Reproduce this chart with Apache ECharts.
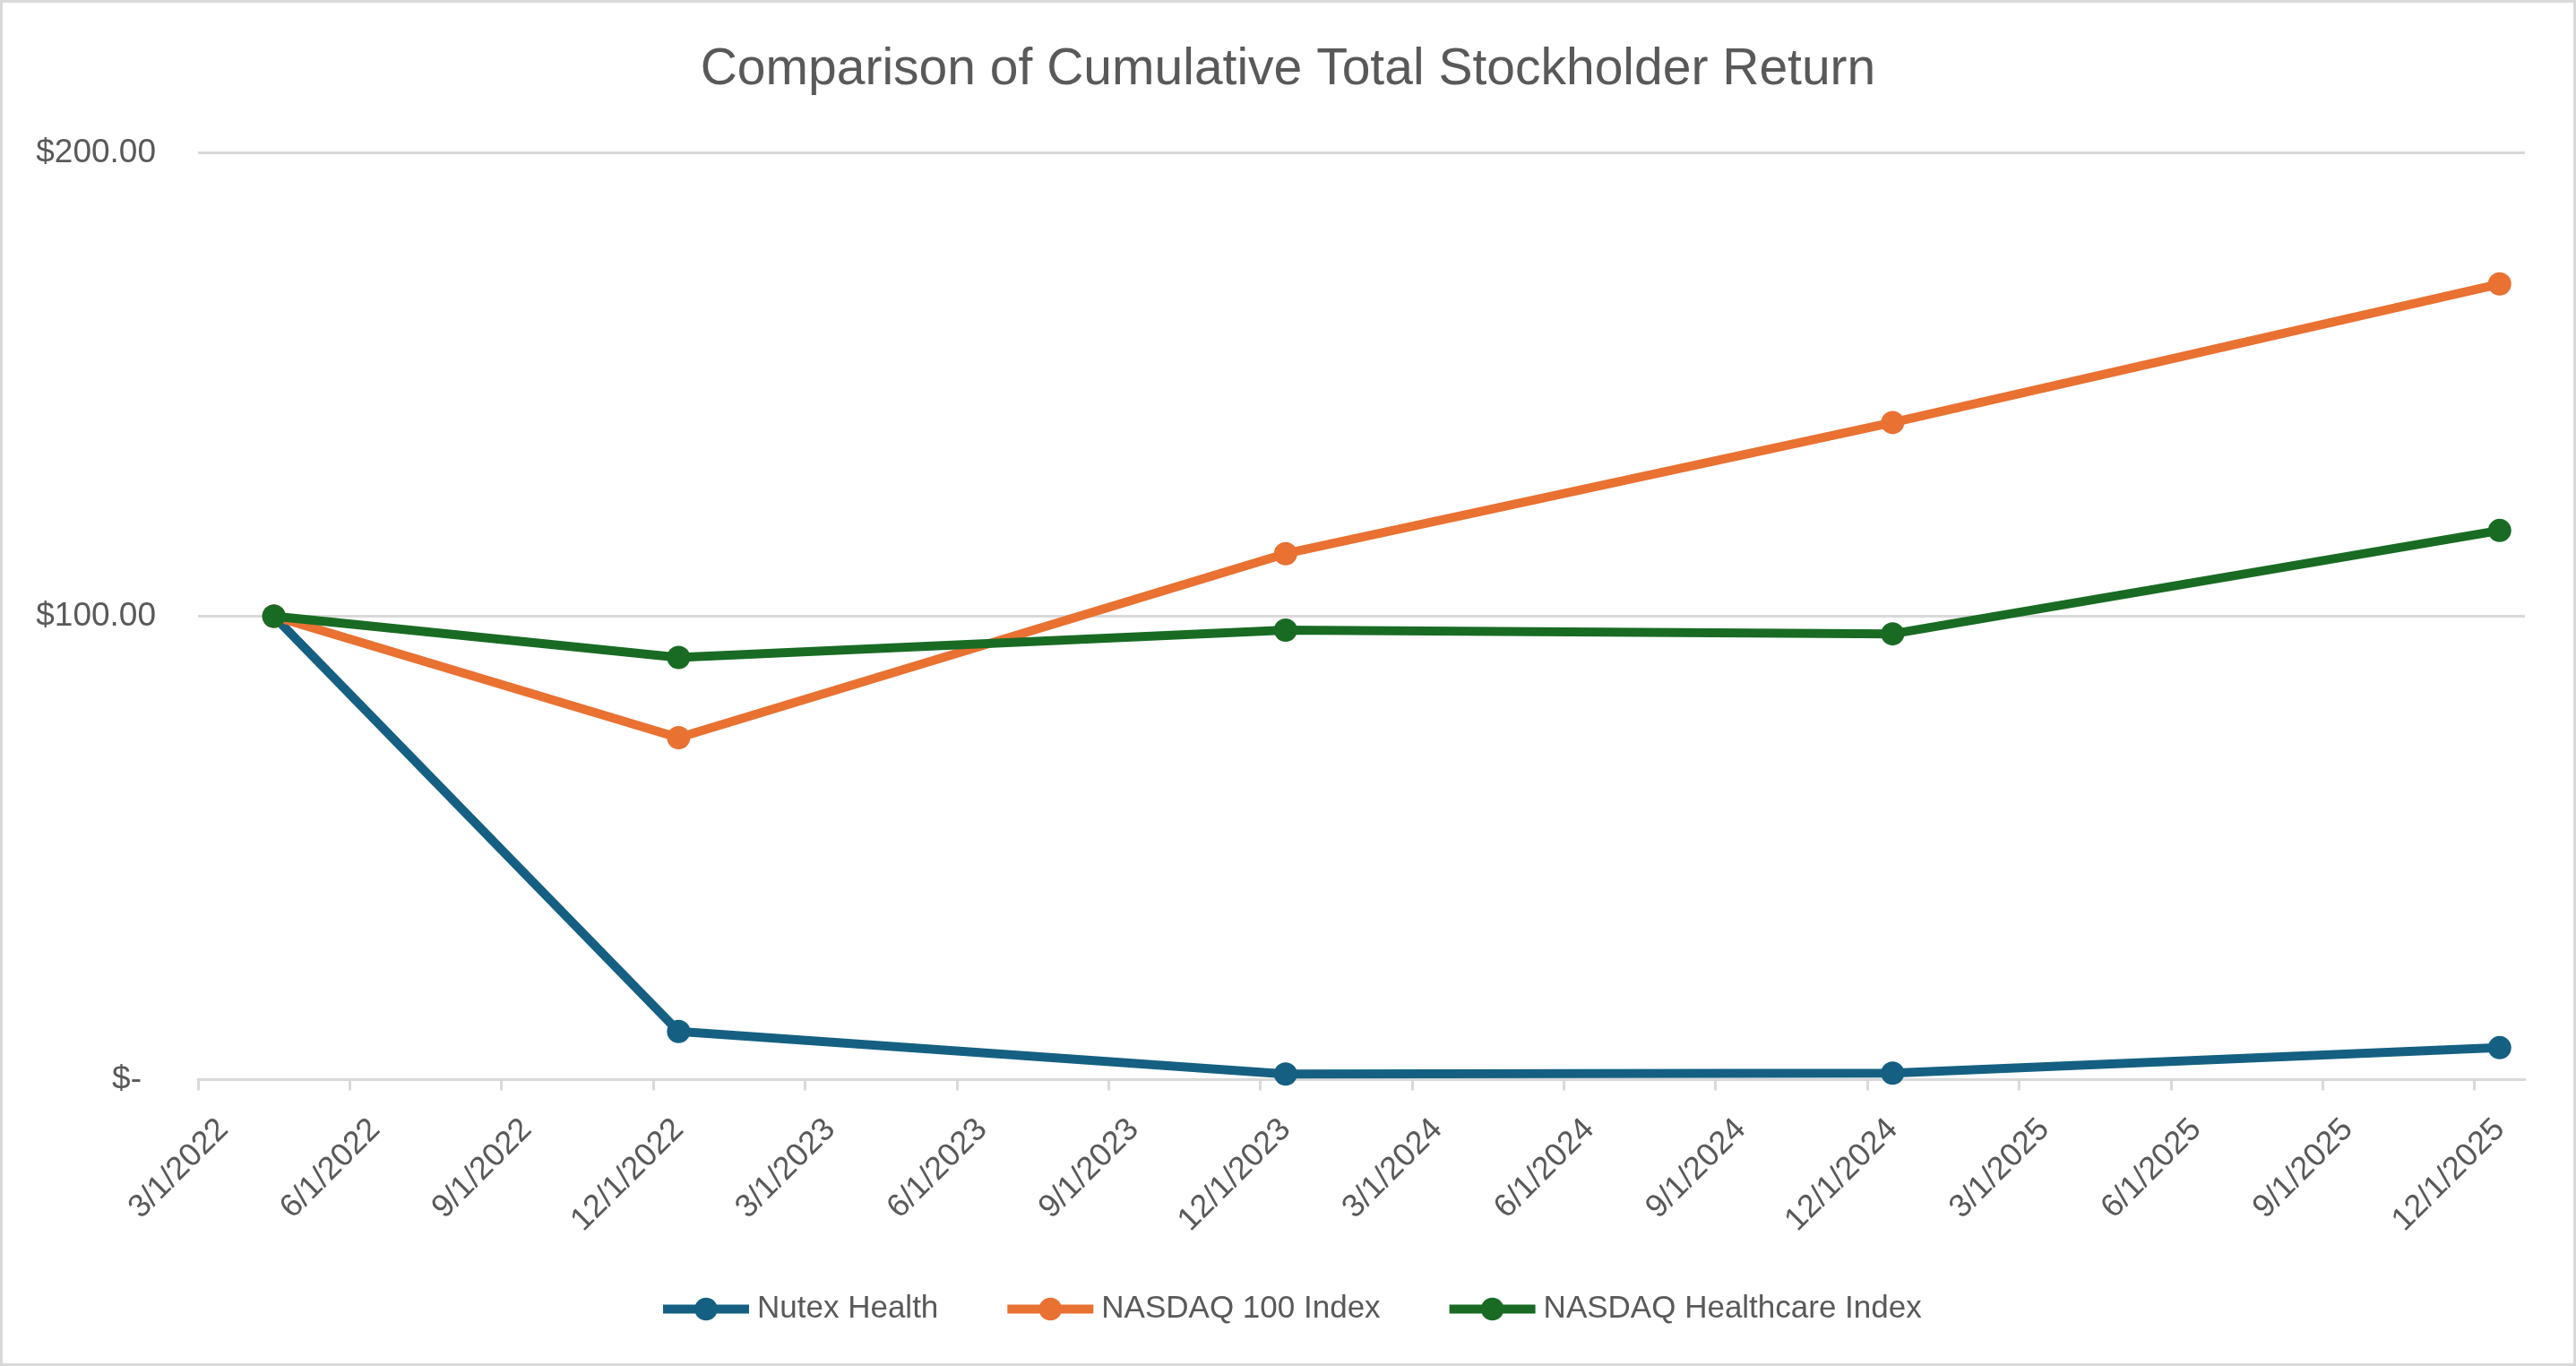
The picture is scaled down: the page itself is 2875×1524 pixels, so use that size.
<!DOCTYPE html>
<html>
<head>
<meta charset="utf-8">
<script src="https://cdn.jsdelivr.net/npm/echarts@6/dist/echarts.min.js"></script>
<style>
  html, body { margin: 0; padding: 0; background: #ffffff; }
  #wrap { position: relative; width: 2875px; height: 1524px; }
  #chart { position: absolute; left: 0; top: 0; width: 2875px; height: 1524px; }
  #frame { position: absolute; left: 0; top: 0; width: 2875px; height: 1524px; box-sizing: border-box; border: 3px solid #d9d9d9; pointer-events: none; }
</style>
</head>
<body>
<div id="wrap"><div id="chart"></div><div id="frame"></div></div>
<script>
// ---- data ----
const titleText = 'Comparison of Cumulative Total Stockholder Return';
const seriesNames = ['Nutex Health', 'NASDAQ 100 Index', 'NASDAQ Healthcare Index'];
const periods = ['2022-04', '2022-12', '2023-12', '2024-12', '2025-12'];
const nutexHealth = [100, 10.4, 1.2, 1.4, 6.9];
const nasdaq100 = [100, 73.8, 113.5, 141.8, 171.7];
const nasdaqHealthcare = [100, 91.1, 97.0, 96.2, 118.5];
const xTickLabels = ['3/1/2022', '6/1/2022', '9/1/2022', '12/1/2022',
  '3/1/2023', '6/1/2023', '9/1/2023', '12/1/2023',
  '3/1/2024', '6/1/2024', '9/1/2024', '12/1/2024',
  '3/1/2025', '6/1/2025', '9/1/2025', '12/1/2025'];
const axisStartMonth = '2022-03';
const axisEndMonth = '2026-01';
const yTicks = [0, 100, 200];

// ---- helpers: month-slot scale (Excel date axis, base unit = months) ----
function ym(s) { const p = s.split('-').map(Number); return p[0] * 12 + (p[1] - 1); }
function monthIndex(s) { return ym(s) - ym(axisStartMonth); }
function labelIndex(lbl) { const p = lbl.split('/').map(Number); return (p[2] * 12 + p[0] - 1) - ym(axisStartMonth); }
const tickValues = xTickLabels.map(labelIndex);
const labelValues = tickValues.map(v => v + 0.5);
const xData = periods.map(p => monthIndex(p) + 0.5);

const colors = ['#156082', '#E97132', '#196B24'];
const values = [nutexHealth, nasdaq100, nasdaqHealthcare];
const FONT = 'Liberation Sans, Arial, sans-serif';
const TXT = '#595959';
const GRIDC = '#d9d9d9';

const chart = echarts.init(document.getElementById('chart'), null, { renderer: 'canvas' });
chart.setOption({
  animation: false,
  backgroundColor: '#ffffff',
  color: colors,
  textStyle: { fontFamily: FONT },
  title: {
    text: titleText,
    left: 'center',
    top: 45,
    textStyle: { fontFamily: FONT, fontSize: 57, fontWeight: 'normal', color: TXT }
  },
  legend: {
    data: seriesNames,
    left: 730,
    top: 1438,
    itemWidth: 96,
    itemHeight: 32,
    itemGap: 72,
    lineStyle: { width: 10 },
    textStyle: { fontFamily: FONT, fontSize: 35, color: TXT, padding: [0, 0, 0, 4] }
  },
  grid: {
    left: 221, right: 57, top: 170.5, bottom: 319.5,
    containLabel: false,
    outerBoundsMode: 'none'
  },
  xAxis: {
    type: 'value',
    min: 0,
    max: monthIndex(axisEndMonth),
    interval: 3,
    axisLine: { show: true, lineStyle: { color: GRIDC, width: 3 } },
    axisTick: { show: true, length: 12, lineStyle: { color: GRIDC, width: 3 }, customValues: tickValues },
    splitLine: { show: false },
    axisLabel: {
      customValues: labelValues,
      rotate: 45,
      margin: 50,
      fontFamily: FONT,
      fontSize: 36,
      color: TXT,
      formatter: function (v) {
        const i = labelValues.findIndex(x => Math.abs(x - v) < 1e-6);
        return i >= 0 ? xTickLabels[i] : '';
      }
    }
  },
  yAxis: {
    type: 'value',
    min: yTicks[0],
    max: yTicks[yTicks.length - 1],
    interval: yTicks[1] - yTicks[0],
    axisLine: { show: false },
    axisTick: { show: false },
    splitLine: { show: true, lineStyle: { color: GRIDC, width: 3 } },
    axisLabel: {
      margin: 47,
      formatter: function (v) {
        return v === 0 ? '{z|$-}' : '{n|$' + v.toFixed(2) + '}';
      },
      rich: {
        n: { fontFamily: FONT, fontSize: 37, color: TXT },
        z: { fontFamily: FONT, fontSize: 37, color: TXT, padding: [0, 16, 0, 0] }
      }
    }
  },
  series: seriesNames.map((name, k) => ({
    name: name,
    type: 'line',
    data: xData.map((x, i) => [x, values[k][i]]),
    symbol: 'circle',
    symbolSize: 26,
    showSymbol: true,
    lineStyle: { width: 10, color: colors[k] },
    itemStyle: { color: colors[k] },
    z: 2 + k
  }))
});
</script>
</body>
</html>
